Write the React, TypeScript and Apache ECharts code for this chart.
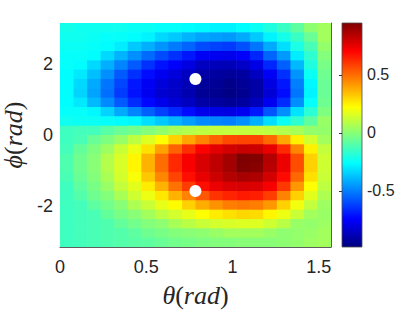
import React, { useEffect, useRef } from "react";
import * as echarts from "echarts";

// cell centres of the sampled field
const thetaCenters = [0.039, 0.118, 0.196, 0.275, 0.353, 0.432, 0.511, 0.589, 0.668, 0.746, 0.825, 0.904, 0.982, 1.061, 1.139, 1.218, 1.296, 1.375, 1.453, 1.532];
const phiCenters = [3.011, 2.749, 2.487, 2.225, 1.963, 1.702, 1.44, 1.178, 0.916, 0.654, 0.393, 0.131, -0.131, -0.393, -0.654, -0.916, -1.178, -1.44, -1.702, -1.963, -2.225, -2.487, -2.749, -3.011];

// field values, one row per phi (top to bottom), one column per theta
const fieldRows = [
  [-0.22, -0.23, -0.23, -0.23, -0.23, -0.24, -0.24, -0.25, -0.25, -0.26, -0.27, -0.28, -0.28, -0.26, -0.24, -0.20, -0.15, -0.08, 0.01, 0.05],
  [-0.23, -0.23, -0.24, -0.25, -0.25, -0.26, -0.28, -0.33, -0.36, -0.40, -0.43, -0.44, -0.45, -0.42, -0.36, -0.28, -0.22, -0.15, -0.06, 0.05],
  [-0.24, -0.24, -0.25, -0.26, -0.29, -0.36, -0.41, -0.46, -0.51, -0.55, -0.60, -0.62, -0.63, -0.59, -0.52, -0.42, -0.32, -0.21, -0.12, 0.02],
  [-0.25, -0.25, -0.26, -0.33, -0.40, -0.47, -0.54, -0.60, -0.65, -0.70, -0.76, -0.77, -0.78, -0.75, -0.67, -0.55, -0.45, -0.29, -0.17, -0.01],
  [-0.25, -0.26, -0.33, -0.41, -0.49, -0.57, -0.65, -0.71, -0.75, -0.80, -0.86, -0.87, -0.88, -0.85, -0.79, -0.67, -0.56, -0.39, -0.20, -0.03],
  [-0.26, -0.30, -0.38, -0.47, -0.57, -0.65, -0.72, -0.77, -0.81, -0.86, -0.91, -0.92, -0.93, -0.92, -0.86, -0.76, -0.65, -0.46, -0.24, -0.05],
  [-0.26, -0.33, -0.42, -0.52, -0.61, -0.70, -0.76, -0.81, -0.84, -0.88, -0.93, -0.94, -0.96, -0.94, -0.91, -0.80, -0.70, -0.50, -0.27, -0.06],
  [-0.26, -0.34, -0.43, -0.53, -0.63, -0.71, -0.77, -0.83, -0.85, -0.89, -0.94, -0.95, -0.97, -0.95, -0.91, -0.82, -0.72, -0.52, -0.28, -0.06],
  [-0.26, -0.30, -0.39, -0.48, -0.57, -0.66, -0.73, -0.78, -0.82, -0.86, -0.91, -0.92, -0.94, -0.92, -0.87, -0.77, -0.66, -0.47, -0.25, -0.05],
  [-0.25, -0.25, -0.27, -0.34, -0.42, -0.49, -0.56, -0.62, -0.67, -0.72, -0.78, -0.79, -0.80, -0.77, -0.70, -0.58, -0.47, -0.31, -0.18, -0.02],
  [-0.23, -0.24, -0.24, -0.25, -0.26, -0.27, -0.32, -0.36, -0.40, -0.44, -0.48, -0.49, -0.50, -0.47, -0.41, -0.32, -0.24, -0.17, -0.08, 0.03],
  [-0.14, -0.13, -0.13, -0.09, -0.06, -0.04, -0.01, 0.02, 0.06, 0.08, 0.10, 0.11, 0.11, 0.11, 0.11, 0.10, 0.08, 0.06, 0.02, 0.02],
  [-0.14, -0.12, -0.06, -0.02, 0.03, 0.10, 0.16, 0.22, 0.31, 0.39, 0.46, 0.52, 0.57, 0.58, 0.58, 0.51, 0.39, 0.25, 0.14, 0.05],
  [-0.13, -0.07, -0.02, 0.04, 0.12, 0.19, 0.28, 0.40, 0.52, 0.62, 0.71, 0.76, 0.79, 0.81, 0.80, 0.75, 0.63, 0.45, 0.25, 0.11],
  [-0.11, -0.05, 0.00, 0.08, 0.15, 0.24, 0.37, 0.50, 0.63, 0.72, 0.78, 0.83, 0.88, 0.95, 0.94, 0.85, 0.74, 0.56, 0.31, 0.13],
  [-0.11, -0.05, 0.00, 0.08, 0.15, 0.24, 0.37, 0.50, 0.63, 0.72, 0.78, 0.83, 0.88, 0.94, 0.93, 0.84, 0.74, 0.56, 0.31, 0.13],
  [-0.12, -0.06, -0.01, 0.06, 0.14, 0.21, 0.33, 0.45, 0.58, 0.68, 0.75, 0.80, 0.85, 0.87, 0.86, 0.79, 0.69, 0.51, 0.28, 0.12],
  [-0.14, -0.08, -0.03, 0.03, 0.11, 0.17, 0.26, 0.37, 0.49, 0.59, 0.68, 0.74, 0.77, 0.78, 0.77, 0.72, 0.60, 0.42, 0.22, 0.10],
  [-0.14, -0.10, -0.05, -0.01, 0.06, 0.13, 0.19, 0.27, 0.37, 0.46, 0.54, 0.61, 0.64, 0.66, 0.65, 0.59, 0.46, 0.31, 0.17, 0.07],
  [-0.14, -0.13, -0.08, -0.04, 0.00, 0.07, 0.12, 0.18, 0.23, 0.31, 0.38, 0.43, 0.47, 0.48, 0.47, 0.42, 0.31, 0.20, 0.11, 0.04],
  [-0.14, -0.13, -0.12, -0.07, -0.03, 0.00, 0.05, 0.10, 0.14, 0.18, 0.22, 0.26, 0.28, 0.30, 0.29, 0.24, 0.19, 0.12, 0.05, 0.03],
  [-0.14, -0.13, -0.12, -0.11, -0.07, -0.04, -0.01, 0.01, 0.06, 0.09, 0.12, 0.14, 0.15, 0.16, 0.16, 0.13, 0.09, 0.03, 0.02, 0.04],
  [-0.14, -0.13, -0.12, -0.11, -0.10, -0.08, -0.05, -0.03, -0.01, 0.00, 0.01, 0.03, 0.05, 0.05, 0.05, 0.03, 0.01, 0.02, 0.03, 0.05],
  [-0.14, -0.13, -0.12, -0.11, -0.10, -0.09, -0.08, -0.06, -0.04, -0.03, -0.02, -0.01, -0.01, 0.00, 0.00, 0.00, 0.01, 0.02, 0.04, 0.05],
];

// white markers
const dotTheta = [0.785, 0.785];
const dotPhi = [1.571, -1.571];

// axes
const thetaRange = [0, 1.5708];
const phiRange = [-3.1416, 3.1416];
const xTicks = [0, 0.5, 1, 1.5];
const yTicks = [-2, 0, 2];
const cbRange = [-0.983, 0.948];
const cbTicks = [-0.5, 0, 0.5];

const jet = ["#00007F", "#0000FF", "#007FFF", "#00FFFF", "#7FFF7F", "#FFFF00", "#FF7F00", "#FF0000", "#7F0000"];

const TXT = "#262626";
const SANS = "'Liberation Sans', Arial, Helvetica, sans-serif";
const SERIF = "'Liberation Serif', 'DejaVu Serif', 'Times New Roman', serif";

export default function App() {
  const ref = useRef<HTMLDivElement>(null);

  useEffect(() => {
    if (!ref.current) return;
    const chart = echarts.init(ref.current, undefined, { renderer: "svg" });

    const nT = thetaCenters.length;
    const nP = phiCenters.length;
    const cells: number[][] = [];
    for (let j = 0; j < nP; j++) {
      for (let i = 0; i < nT; i++) {
        cells.push([thetaCenters[i], phiCenters[j], fieldRows[j][i], i, j]);
      }
    }

    const nameRich = {
      i: { fontFamily: SERIF, fontStyle: "italic", fontSize: 26, color: TXT },
      n: { fontFamily: SERIF, fontSize: 26, color: TXT },
    };

    const option: any = {
      animation: false,
      backgroundColor: "#ffffff",
      grid: [
        { left: 60, top: 23, width: 271, height: 224, outerBoundsMode: "none", containLabel: false },
        { left: 342, top: 23, width: 20, height: 224, outerBoundsMode: "none", containLabel: false },
      ],
      xAxis: [
        {
          type: "value",
          gridIndex: 0,
          min: thetaRange[0],
          max: thetaRange[1],
          z: 10,
          axisLine: { show: true, onZero: false, lineStyle: { color: "rgba(40,40,40,0.75)", width: 1 } },
          axisTick: { show: false },
          splitLine: { show: false },
          axisLabel: {
            customValues: xTicks,
            color: TXT,
            fontSize: 18,
            fontFamily: SANS,
            margin: 11,
          },
          name: "{i|θ}{n|(}{i|rad}{n|)}",
          nameLocation: "middle",
          nameGap: 35,
          nameTextStyle: { rich: nameRich },
        },
        { type: "value", gridIndex: 1, min: 0, max: 1, show: false },
      ],
      yAxis: [
        {
          type: "value",
          gridIndex: 0,
          min: phiRange[0],
          max: phiRange[1],
          axisLine: { show: false },
          axisTick: { show: false },
          splitLine: { show: false },
          axisLabel: {
            customValues: yTicks,
            color: TXT,
            fontSize: 18,
            fontFamily: SANS,
            margin: 7,
          },
          name: "{i|ϕ}{n|(}{i|rad}{n|)}",
          nameLocation: "middle",
          nameGap: 31,
          nameTextStyle: { rich: nameRich },
        },
        {
          type: "value",
          gridIndex: 0,
          position: "right",
          min: phiRange[0],
          max: phiRange[1],
          z: 10,
          axisLine: { show: true, onZero: false, lineStyle: { color: "rgba(40,40,40,0.75)", width: 1 } },
          axisTick: { show: false },
          axisLabel: { show: false },
          splitLine: { show: false },
        },
        {
          type: "value",
          gridIndex: 1,
          position: "right",
          min: cbRange[0],
          max: cbRange[1],
          z: 10,
          axisLine: { show: false },
          axisTick: {
            show: true,
            inside: true,
            length: 3,
            customValues: cbTicks,
            lineStyle: { color: "#333333", width: 1 },
          },
          splitLine: { show: false },
          axisLabel: {
            customValues: cbTicks,
            color: TXT,
            fontSize: 16,
            fontFamily: SANS,
            margin: 5,
          },
        },
      ],
      visualMap: {
        type: "continuous",
        show: false,
        min: cbRange[0],
        max: cbRange[1],
        dimension: 2,
        seriesIndex: 0,
        inRange: { color: jet },
      },
      series: [
        {
          type: "custom",
          xAxisIndex: 0,
          yAxisIndex: 0,
          clip: true,
          encode: { x: 0, y: 1 },
          data: cells,
          renderItem: (params: any, api: any) => {
            const i = api.value(3);
            const j = api.value(4);
            const x0 = i === 0 ? thetaRange[0] : (thetaCenters[i - 1] + thetaCenters[i]) / 2;
            const x1 = i === nT - 1 ? thetaRange[1] : (thetaCenters[i] + thetaCenters[i + 1]) / 2;
            const yT = j === 0 ? phiRange[1] : (phiCenters[j - 1] + phiCenters[j]) / 2;
            const yB = j === nP - 1 ? phiRange[0] : (phiCenters[j] + phiCenters[j + 1]) / 2;
            const p0 = api.coord([x0, yT]);
            const p1 = api.coord([x1, yB]);
            return {
              type: "rect",
              shape: { x: p0[0], y: p0[1], width: p1[0] - p0[0] + 0.6, height: p1[1] - p0[1] + 0.6 },
              style: { fill: api.visual("color") },
            };
          },
        },
        {
          type: "scatter",
          xAxisIndex: 0,
          yAxisIndex: 0,
          symbolSize: 12,
          z: 5,
          itemStyle: { color: "#ffffff", opacity: 1 },
          data: dotTheta.map((t, k) => [t, dotPhi[k]]),
        },
        {
          type: "custom",
          xAxisIndex: 1,
          yAxisIndex: 2,
          data: [[0]],
          renderItem: (params: any, api: any) => {
            const p0 = api.coord([0, cbRange[1]]);
            const p1 = api.coord([1, cbRange[0]]);
            const stops = jet
              .slice()
              .reverse()
              .map((c, k) => ({ offset: k / (jet.length - 1), color: c }));
            return {
              type: "rect",
              shape: { x: p0[0], y: p0[1], width: p1[0] - p0[0], height: p1[1] - p0[1] },
              style: {
                fill: new echarts.graphic.LinearGradient(0, 0, 0, 1, stops),
                stroke: "#4d4d4d",
                lineWidth: 0.8,
              },
            };
          },
        },
      ],
    };

    chart.setOption(option);
    return () => chart.dispose();
  }, []);

  return (
    <div
      ref={ref}
      style={{ position: "fixed", left: 0, top: 0, width: 415, height: 312, background: "#fff" }}
    />
  );
}
